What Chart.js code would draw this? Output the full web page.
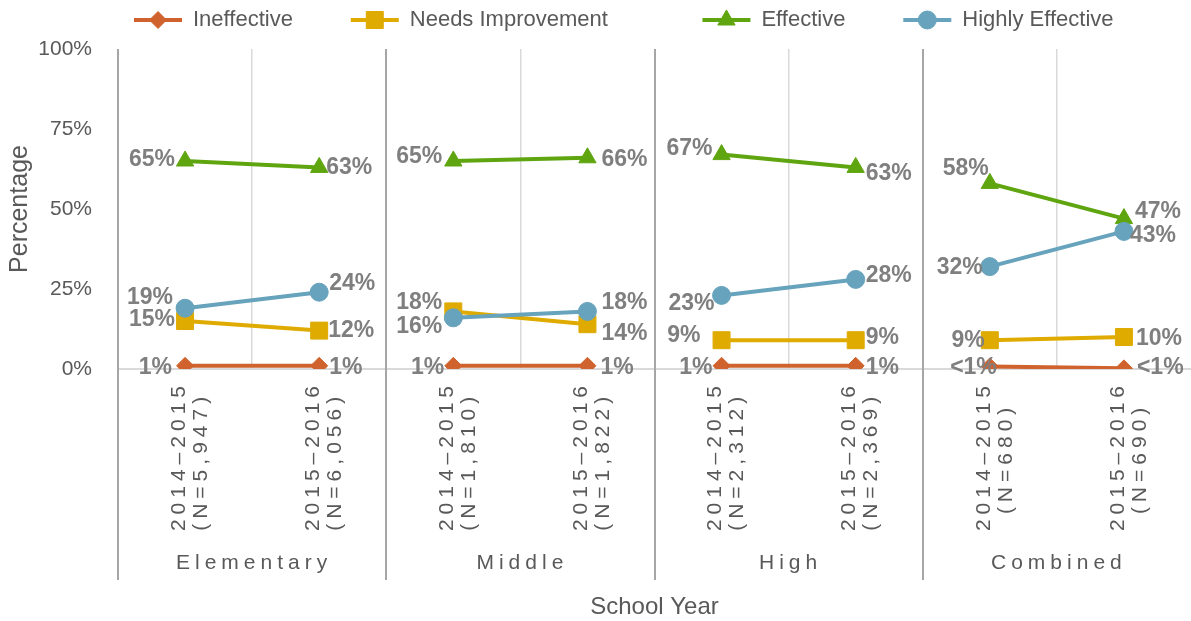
<!DOCTYPE html>
<html>
<head>
<meta charset="utf-8">
<title>Teacher Effectiveness Ratings by School Level</title>
<script src="https://cdn.jsdelivr.net/npm/chart.js@4/dist/chart.umd.min.js"></script>
<style>
  html, body { margin: 0; padding: 0; background: #ffffff; }
  #wrap { width: 1191px; height: 621px; }
</style>
</head>
<body>
<div id="wrap"><canvas id="ratings" width="1191" height="621"></canvas></div>
<script>
// ---- data ----
const schoolLevels = ['Elementary', 'Middle', 'High', 'Combined'];
const schoolYears = ['2014–2015', '2015–2016'];
const sampleSizes = ['5,947', '6,056', '1,810', '1,822', '2,312', '2,369', '680', '690'];
const percentTicks = [0, 25, 50, 75, 100];

// rating shares (%), two school years per level
const ineffective      = [1, 1, 1, 1, 1, 1, 0.8, 0.2];
const needsImprovement = [15, 12, 18, 14, 9, 9, 9, 10];
const effective        = [65, 63, 65, 66, 67, 63, 58, 47];
const highlyEffective  = [19, 24, 16, 18, 23, 28, 32, 43];

// ---- styling ----
const FONT = "'Liberation Sans', Arial, Helvetica, sans-serif";
const AXIS_TEXT = '#595959';
const VALUE_TEXT = '#7F7F7F';
const LETTER_SPACING = '5px';
const LEGEND_HEIGHT = 49;
const COLORS = {
  ineffective: '#D0632D',
  needs: '#DFAB00',
  effective: '#5FA510',
  highly: '#67A3BC'
};

// value-label nudges [dx, dy] per point, keeps neighbouring labels apart
const labelNudge = [
  [[-3, 2], [0, 2], [1, 2], [3, 2], [1, 2], [0, 2], [17, 1], [3, -1]],
  [[0, -1], [-1, 0], [-1, -9], [4, 9], [-11, -5], [0, -3], [5, 0], [2, 2]],
  [[0, -1], [-3, 0], [-1, -4], [4, 2], [1, -6], [0, 6], [9, -15], [1, -7]],
  [[-2, -11], [0, -9], [-1, 9], [4, -9], [3, 8], [0, -4], [3, 1], [-4, 4]]
];
// trailing no-break spaces widening each legend entry
const legendPad = [8, 14, 8, 0];

// center the two lines of each rotated category label against each other
const measurer = document.createElement('canvas').getContext('2d');
measurer.font = '21px ' + FONT;
measurer.letterSpacing = LETTER_SPACING;
function centredLines(lines) {
  const widths = lines.map(s => measurer.measureText(s).width);
  const widest = Math.max(...widths);
  const nb = measurer.measureText('\u00A0').width;
  return lines.map((s, i) => s + '\u00A0'.repeat(Math.round((widest - widths[i]) / 2 / nb)));
}
const categoryLabels = sampleSizes.map((n, i) =>
  centredLines([schoolYears[i % 2], '(N=' + n + ')']));

// no line between the last year of one level and the first of the next
const splitByLevel = { borderColor: c => (c.p0DataIndex % 2 === 1 ? 'rgba(0,0,0,0)' : undefined) };

function series(label, data, color, pointStyle, radius, order) {
  return {
    label, data, order, pointStyle,
    borderColor: color, backgroundColor: color,
    pointBackgroundColor: color, pointBorderColor: color,
    pointRadius: radius, pointHoverRadius: radius, pointBorderWidth: 1,
    borderWidth: 4, tension: 0, fill: false,
    segment: splitByLevel
  };
}

const datasets = [
  series('Ineffective', ineffective, COLORS.ineffective, 'rectRot', 8.5, 3),
  series('Needs Improvement', needsImprovement, COLORS.needs, 'rect', 12, 2),
  series('Effective', effective, COLORS.effective, 'triangle', 10, 1),
  series('Highly Effective', highlyEffective, COLORS.highly, 'circle', 9, 0)
];

function valueText(v) { return v < 1 ? '<1%' : Math.round(v) + '%'; }

// horizontal axes: no extra side margins for the rotated labels
function fixedHeight(h) {
  return s => { s.height = h; s.paddingLeft = 0; s.paddingRight = 0; };
}

const decorations = {
  id: 'decorations',
  beforeUpdate(chart) {
    // keep a fixed band for the legend above the plot
    const lg = chart.legend;
    if (lg && !lg._fixedBand) {
      const fit = lg.fit;
      lg.fit = function () { fit.call(this); this.height = LEGEND_HEIGHT; };
      lg._fixedBand = true;
    }
  },
  afterLayout(chart) {
    // legend row starts just right of the value axis
    const lg = chart.legend;
    const dx = 125 - lg.left;
    lg.left += dx; lg.right += dx;
  },
  beforeDraw(chart) { chart.ctx.letterSpacing = '0px'; },
  beforeDatasetsDraw(chart) {
    // dark separators between school levels
    const { ctx, chartArea } = chart;
    const x = chart.scales.x, x2 = chart.scales.x2;
    ctx.save();
    ctx.strokeStyle = '#A6A6A6';
    ctx.lineWidth = 2;
    for (let p = 0; p < schoolLevels.length; p++) {
      const px = Math.round(x.getPixelForValue(2 * p - 0.5));
      ctx.beginPath();
      ctx.moveTo(px, chartArea.top);
      ctx.lineTo(px, x2.top + 31);
      ctx.stroke();
    }
    ctx.restore();
  },
  afterDatasetsDraw(chart) {
    const ctx = chart.ctx;
    ctx.save();
    ctx.font = 'bold 23px ' + FONT;
    ctx.fillStyle = VALUE_TEXT;
    ctx.textBaseline = 'middle';
    chart.data.datasets.forEach((ds, d) => {
      const meta = chart.getDatasetMeta(d);
      meta.data.forEach((pt, i) => {
        const first = i % 2 === 0;
        const [nx, ny] = labelNudge[d][i];
        ctx.textAlign = first ? 'right' : 'left';
        ctx.fillText(valueText(ds.data[i]), pt.x + (first ? -10 : 10) + nx, pt.y + ny);
      });
    });
    ctx.restore();
    // category and level names are letter-spaced
    ctx.letterSpacing = LETTER_SPACING;
  },
  afterDraw(chart) {
    const ctx = chart.ctx;
    ctx.letterSpacing = '0px';
    // markers on the legend lines
    const lg = chart.legend;
    const boxW = lg.options.labels.boxWidth;
    const fs = lg.options.labels.font.size;
    lg.legendItems.forEach((item, i) => {
      const hb = lg.legendHitBoxes[i];
      const ds = chart.data.datasets[item.datasetIndex];
      ctx.save();
      ctx.fillStyle = ds.pointBackgroundColor;
      ctx.strokeStyle = ds.pointBorderColor;
      ctx.lineWidth = 1;
      Chart.helpers.drawPoint(ctx, {
        pointStyle: ds.pointStyle, radius: ds.pointRadius, rotation: 0, borderWidth: 1
      }, hb.left + boxW / 2, hb.top + fs / 2);
      ctx.restore();
    });
  }
};

new Chart(document.getElementById('ratings'), {
  type: 'line',
  data: { labels: categoryLabels, datasets },
  plugins: [decorations],
  options: {
    responsive: false,
    animation: false,
    events: [],
    layout: { autoPadding: false, padding: { left: 0, right: -3, top: 0, bottom: 0 } },
    plugins: {
      tooltip: { enabled: false },
      legend: {
        position: 'top',
        align: 'start',
        labels: {
          boxWidth: 48,
          boxHeight: 4,
          padding: 9,
          color: AXIS_TEXT,
          font: { family: FONT, size: 22 },
          sort: (a, b) => a.datasetIndex - b.datasetIndex,
          generateLabels(chart) {
            const items = Chart.defaults.plugins.legend.labels.generateLabels(chart);
            items.forEach(it => {
              it.lineWidth = 0;
              it.text = it.text + '\u00A0'.repeat(legendPad[it.datasetIndex]);
            });
            return items;
          }
        }
      }
    },
    scales: {
      x: {
        type: 'category',
        position: 'bottom',
        weight: 0,
        offset: true,
        afterFit: fixedHeight(180),
        border: { display: false },
        grid: {
          offset: true,
          drawTicks: false,
          lineWidth: 1.5,
          color: c => (c.index % 2 === 1 ? '#D9D9D9' : 'rgba(0,0,0,0)')
        },
        ticks: {
          z: 1,
          autoSkip: false,
          minRotation: 90,
          maxRotation: 90,
          padding: 12,
          labelOffset: -6,
          color: AXIS_TEXT,
          font: { family: FONT, size: 21, lineHeight: '22px' }
        }
      },
      x2: {
        type: 'category',
        position: 'bottom',
        weight: 1,
        offset: true,
        labels: schoolLevels,
        afterFit: fixedHeight(72),
        border: { display: false },
        grid: { display: false, drawTicks: false },
        ticks: {
          z: 1,
          autoSkip: false,
          maxRotation: 0,
          padding: 2,
          labelOffset: 2,
          color: AXIS_TEXT,
          font: { family: FONT, size: 21, lineHeight: '24px' }
        },
        title: {
          display: true,
          text: 'School Year',
          color: AXIS_TEXT,
          padding: { top: 0, bottom: 0 },
          font: { family: FONT, size: 24, lineHeight: 1.1 }
        }
      },
      y: {
        type: 'linear',
        position: 'left',
        min: 0,
        max: 100,
        afterFit: s => { s.width = 118; s.paddingTop = 0; s.paddingBottom = 0; },
        afterBuildTicks: s => { s.ticks = percentTicks.map(v => ({ value: v })); },
        border: { display: false },
        grid: {
          drawTicks: false,
          lineWidth: 2,
          color: c => (c.tick && c.tick.value === 0 ? '#D9D9D9' : 'rgba(0,0,0,0)')
        },
        ticks: {
          padding: 26,
          color: AXIS_TEXT,
          font: { family: FONT, size: 21 },
          callback: v => v + '%'
        },
        title: {
          display: true,
          text: 'Percentage',
          color: AXIS_TEXT,
          padding: { top: 6, bottom: 0 },
          font: { family: FONT, size: 25, lineHeight: 1.1 }
        }
      }
    }
  }
});
</script>
</body>
</html>
